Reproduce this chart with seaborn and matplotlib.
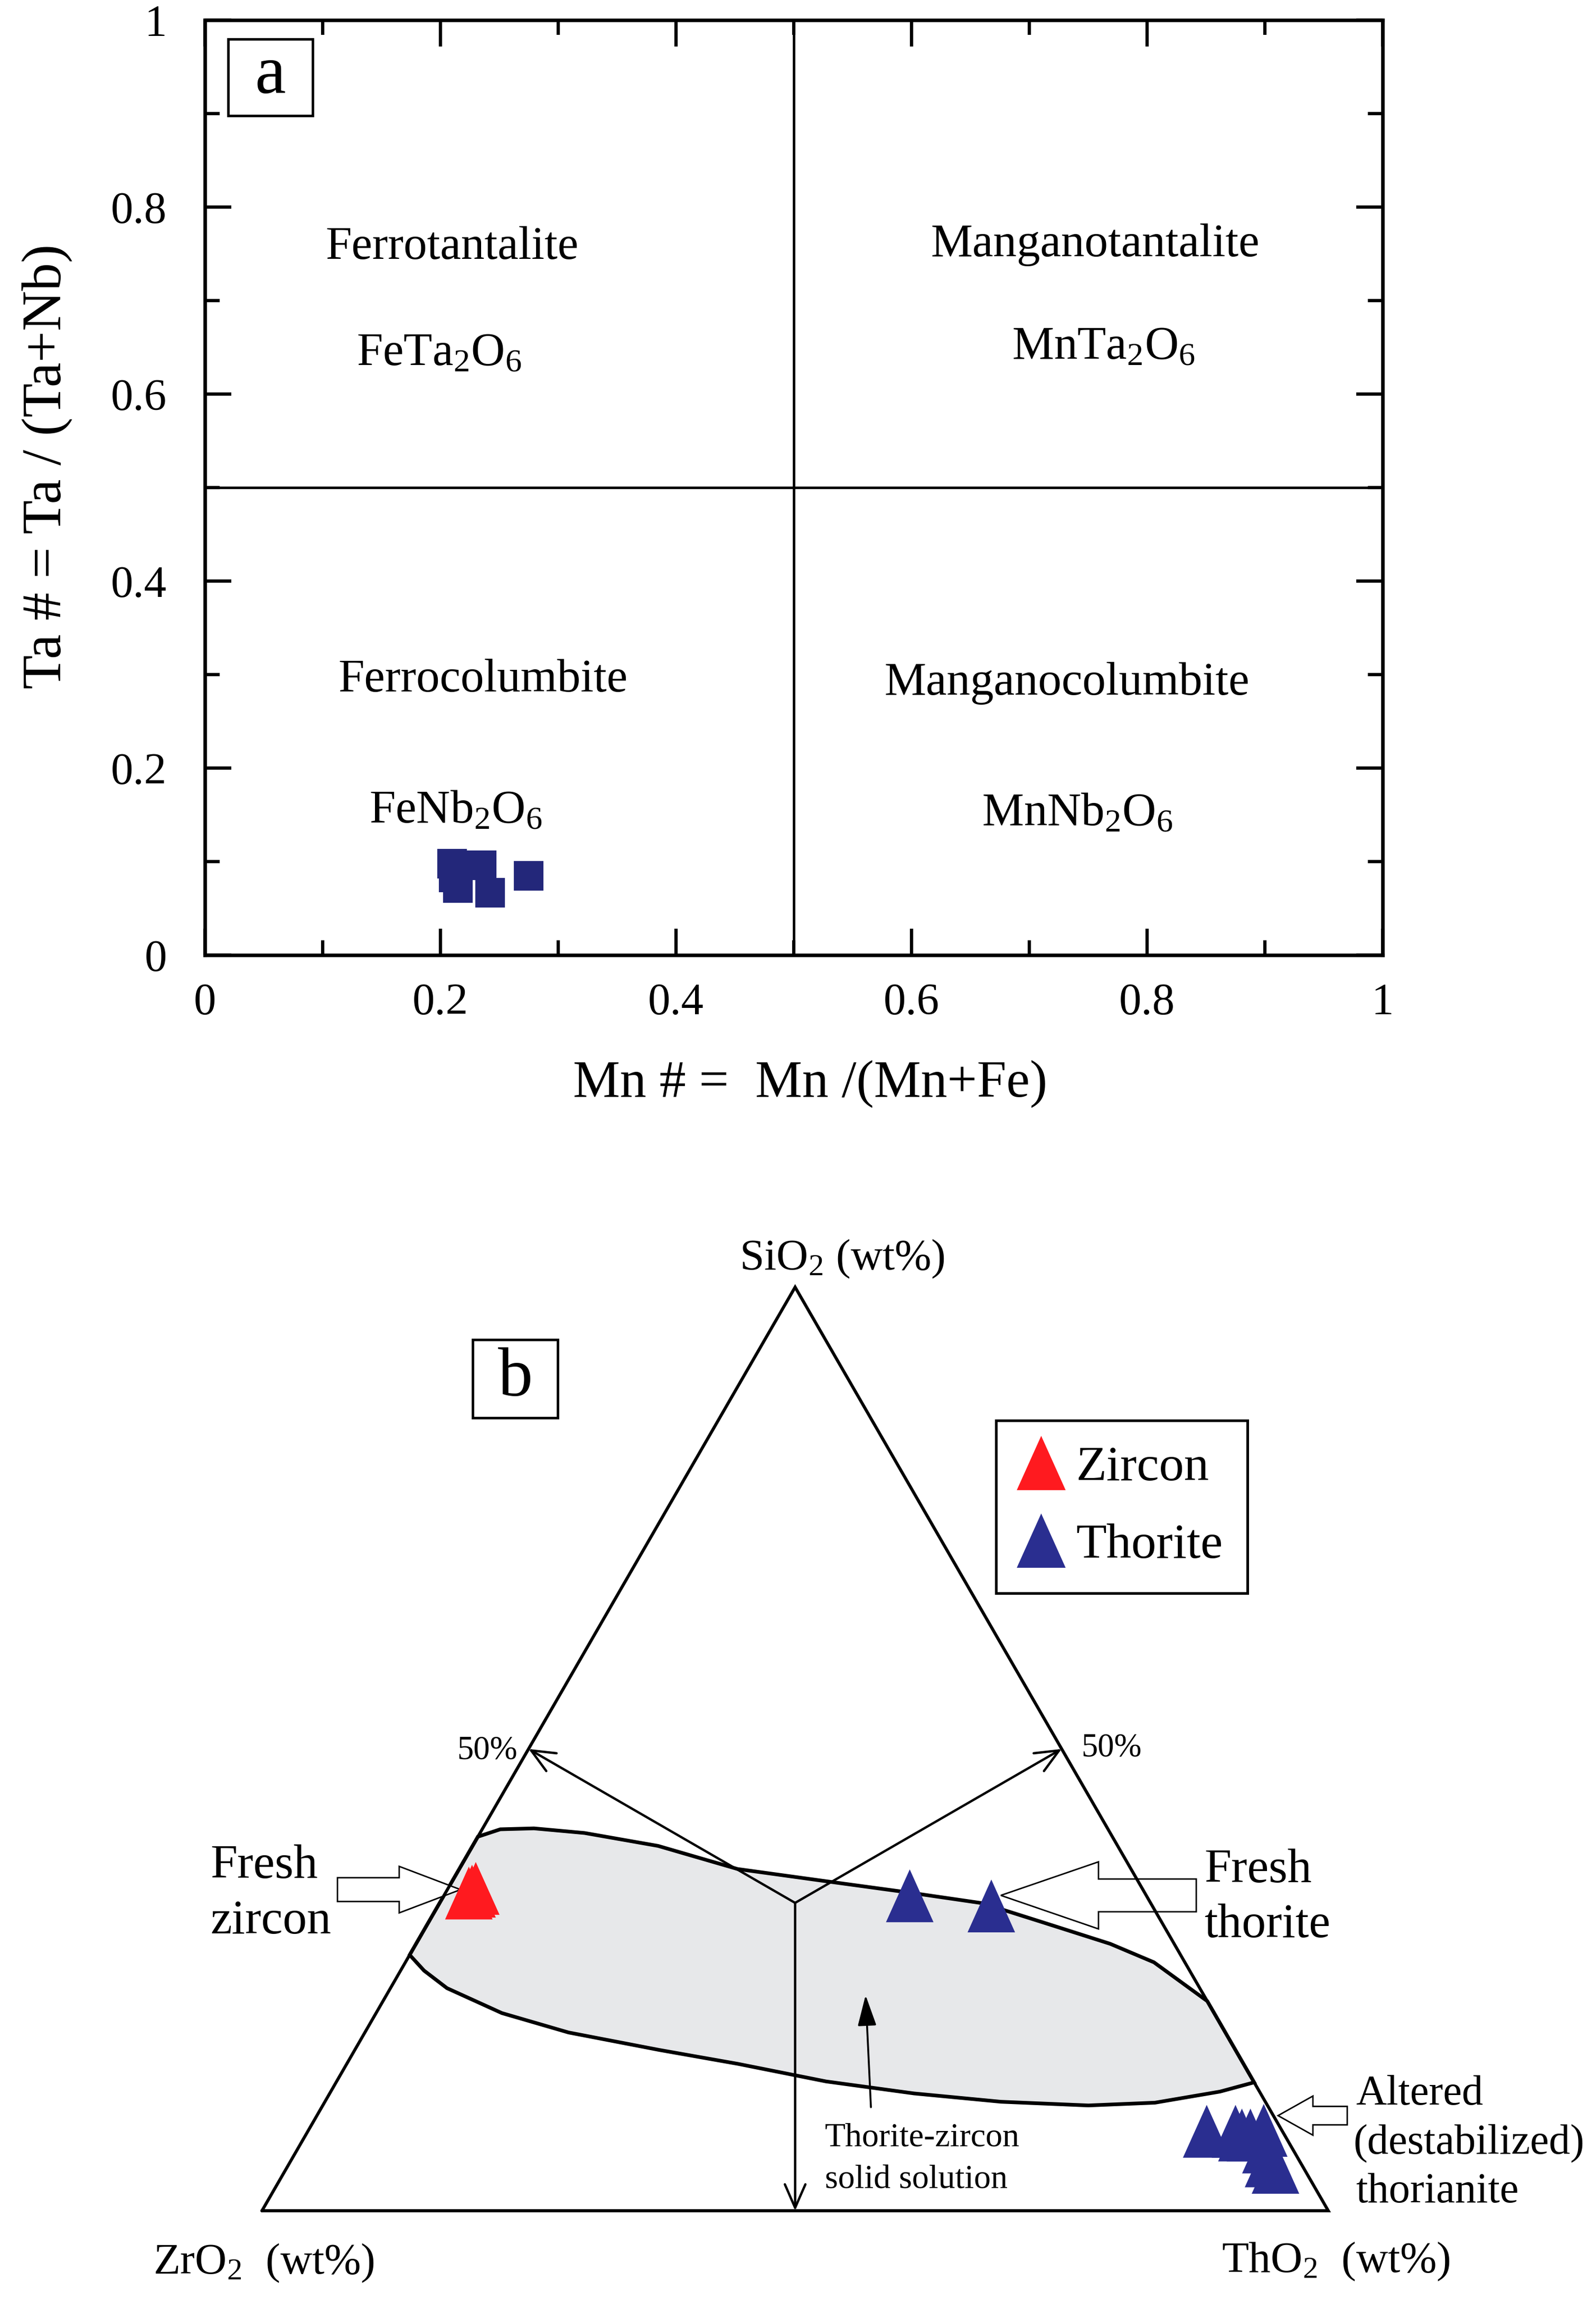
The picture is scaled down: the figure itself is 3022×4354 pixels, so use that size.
import numpy as np
import pandas as pd
import matplotlib
matplotlib.use("Agg")
import matplotlib.pyplot as plt
from matplotlib.patches import Rectangle, FancyArrow
from matplotlib.ticker import MultipleLocator
import seaborn as sns

# ========== panel a: columbite-tantalite quadrilateral ==========
MN_NUM = [0.210, 0.235, 0.215, 0.242, 0.275, 0.211]
TA_NUM = [0.098, 0.096, 0.072, 0.067, 0.085, 0.083]
A_TICKS = [0, 0.2, 0.4, 0.6, 0.8, 1]
A_TICKLABELS = ["0", "0.2", "0.4", "0.6", "0.8", "1"]
FIELD_NAMES = ["Ferrotantalite", "Manganotantalite", "Ferrocolumbite", "Manganocolumbite"]
FIELD_FORMULAS = ["FeTa$_2$O$_6$", "MnTa$_2$O$_6$", "FeNb$_2$O$_6$", "MnNb$_2$O$_6$"]

# ========== panel b: ZrO2-SiO2-ThO2 ternary (wt%) ==========
ZRN_SIO2 = [34.4, 34.6, 34.9]
ZRN_THO2 = [2.2, 2.4, 2.6]
THR_SIO2 = [34.1, 33.0, 8.6, 8.6, 8.2, 8.2, 8.7, 6.9, 5.4, 4.7]
THR_THO2 = [43.7, 51.9, 84.3, 87.0, 87.8, 88.6, 89.6, 90.7, 91.7, 92.7]
# outline of the thorite-zircon solid solution field
SS_SIO2 = [40.5, 41.3, 41.4, 40.9, 39.5, 37.0, 35.7, 34.4, 33.3, 31.2, 28.9, 26.9, 22.7,
           13.9, 12.9, 11.7, 11.4, 11.8, 12.7, 14.0, 15.9, 17.4, 19.3, 21.4, 24.1, 26.0, 27.7]
SS_THO2 = [0.0, 1.7, 4.8, 9.8, 17.4, 26.1, 34.9, 43.8, 50.9, 57.7, 65.1, 70.2, 77.3,
           86.1, 83.4, 77.9, 71.8, 63.4, 54.8, 45.9, 36.7, 28.6, 19.1, 11.8, 5.3, 2.2, 0.0]
MINERALS = ["Zircon", "Thorite"]

NAVY = "#23277a"
BLUE = "#2a2e90"
RED = "#ff1a1f"
FIELD_GREY = "#e7e8ea"


def tern(sio2, tho2):
    # SiO2 at the apex, ZrO2 bottom left, ThO2 bottom right
    s = np.asarray(sio2, dtype=float) / 100
    t = np.asarray(tho2, dtype=float) / 100
    return t + s / 2, s * np.sqrt(3) / 2


sns.set_style("ticks")
plt.rcParams["font.family"] = ["Liberation Serif", "DejaVu Serif"]
plt.rcParams.update({
    "mathtext.fontset": "custom",
    "mathtext.rm": "Liberation Serif",
    "mathtext.it": "Liberation Serif:italic",
    "mathtext.bf": "Liberation Serif:bold",
    "mathtext.default": "rm",
    "axes.edgecolor": "black",
    "axes.labelcolor": "black",
    "text.color": "black",
    "xtick.color": "black",
    "ytick.color": "black",
})

fig = plt.figure(figsize=(30.22, 43.54), dpi=100)

# ---------- panel a ----------
ax_a = fig.add_axes([0.1284, 0.5847, 0.7379, 0.4065])
sns.scatterplot(x=MN_NUM, y=TA_NUM, marker="s", s=1600, color=NAVY,
                linewidth=0, ax=ax_a, zorder=3, legend=False)
ax_a.set_xlim(0, 1)
ax_a.set_ylim(0, 1)
ax_a.axvline(0.5, color="k", lw=3.4, zorder=2)
ax_a.axhline(0.5, color="k", lw=3.4, zorder=2)

ax_a.set_xticks(A_TICKS, A_TICKLABELS)
ax_a.set_yticks(A_TICKS, A_TICKLABELS)
ax_a.xaxis.set_minor_locator(MultipleLocator(0.1))
ax_a.yaxis.set_minor_locator(MultipleLocator(0.1))
ax_a.tick_params(which="both", direction="in", top=True, right=True,
                 width=4.5, labelsize=61)
ax_a.tick_params(which="major", length=36)
ax_a.tick_params(which="minor", length=20)
ax_a.tick_params(axis="x", pad=38)
ax_a.tick_params(axis="y", pad=52)
for sp in ax_a.spines.values():
    sp.set_linewidth(4.8)

ax_a.set_xlabel("Mn # =  Mn /(Mn+Fe)", fontsize=72)
ax_a.xaxis.set_label_coords(0.514, -0.112)
ax_a.set_ylabel("Ta # = Ta / (Ta+Nb)", fontsize=76)
ax_a.yaxis.set_label_coords(-0.112, 0.523)

name_pos = [(0.210, 0.757), (0.756, 0.760), (0.236, 0.294), (0.732, 0.291)]
formula_pos = [(0.199, 0.643), (0.763, 0.650), (0.213, 0.154), (0.741, 0.151)]
for name, (x, y) in zip(FIELD_NAMES, name_pos):
    ax_a.text(x, y, name, fontsize=64, ha="center", va="center")
for fml, (x, y) in zip(FIELD_FORMULAS, formula_pos):
    ax_a.text(x, y, fml, fontsize=64, ha="center", va="center")

ax_a.add_patch(Rectangle((0.0197, 0.898), 0.0718, 0.082, transform=ax_a.transAxes,
                         fill=False, ec="k", lw=3.4, zorder=5))
ax_a.text(0.0556, 0.940, "a", transform=ax_a.transAxes, fontsize=95,
          ha="center", va="center", zorder=5)

# ---------- panel b ----------
ax_b = fig.add_axes([0, 0, 1, 0.4832])
ax_b.set_xlim(-0.2457, 1.2511)
ax_b.set_ylim(-0.0837, 0.9584)
ax_b.set_axis_off()

# solid solution field
fx, fy = tern(SS_SIO2, SS_THO2)
ax_b.fill(fx, fy, facecolor=FIELD_GREY, edgecolor="k", lw=5, zorder=1)

# triangle frame
tx, ty = tern([0, 0, 100, 0], [0, 100, 0, 0])
ax_b.plot(tx, ty, color="k", lw=4.2, zorder=3, solid_joinstyle="miter")

# centroid -> 50 % lines
cx, cy = tern(100 / 3, 100 / 3)
mx, my = tern([50, 50, 0], [0, 50, 50])
for x, y in zip(mx, my):
    ax_b.annotate("", xy=(x, y), xytext=(cx, cy),
                  arrowprops=dict(arrowstyle="->,head_length=1.6,head_width=0.7",
                                  lw=3.2, color="k", mutation_scale=20,
                                  shrinkA=0, shrinkB=0), zorder=3)

# analyses
zx, zy = tern(ZRN_SIO2, ZRN_THO2)
hx, hy = tern(THR_SIO2, THR_THO2)
df = pd.DataFrame({
    "x": np.concatenate([zx, hx]),
    "y": np.concatenate([zy, hy]),
    "mineral": [MINERALS[0]] * len(zx) + [MINERALS[1]] * len(hx),
})
tri = [(0, 1), (-0.9, -1), (0.9, -1)]
sns.scatterplot(data=df, x="x", y="y", hue="mineral", hue_order=MINERALS,
                palette={MINERALS[0]: RED, MINERALS[1]: BLUE}, marker=tri,
                s=72 ** 2, linewidth=0, edgecolor="none", ax=ax_b, zorder=4)
ax_b.set_xlabel("")
ax_b.set_ylabel("")

old = ax_b.get_legend()
handles = list(old.legend_handles)
labels = [t.get_text() for t in old.get_texts()]
old.remove()
for h in handles:
    h.set_markersize(74)
leg = ax_b.legend(handles, labels, loc="upper left", bbox_to_anchor=(0.6241, 0.3824),
                  bbox_transform=fig.transFigure, fontsize=68, frameon=True,
                  fancybox=False, edgecolor="k", framealpha=1, borderpad=0.5,
                  handlelength=0.8, handletextpad=0.30, labelspacing=0.64,
                  borderaxespad=0)
leg.get_frame().set_linewidth(3.6)

# vertex labels
ax_b.text(0.5443, 0.8826, "SiO$_2$ (wt%)", fontsize=60, ha="center", va="baseline")
ax_b.text(-0.1020, -0.0589, "ZrO$_2$  (wt%)", fontsize=60, ha="left", va="baseline")
ax_b.text(0.9000, -0.0575, "ThO$_2$  (wt%)", fontsize=60, ha="left", va="baseline")
ax_b.text(0.2397, 0.4240, "50%", fontsize=45, ha="right", va="baseline")
ax_b.text(0.7682, 0.4260, "50%", fontsize=45, ha="left", va="baseline")

# annotations
ax_b.text(-0.0485, 0.3120, "Fresh", fontsize=66, ha="left", va="baseline")
ax_b.text(-0.0485, 0.2600, "zircon", fontsize=66, ha="left", va="baseline")
ax_b.text(0.8836, 0.3081, "Fresh", fontsize=66, ha="left", va="baseline")
ax_b.text(0.8836, 0.2566, "thorite", fontsize=66, ha="left", va="baseline")
ax_b.text(1.0258, 0.0996, "Altered", fontsize=58, ha="left", va="baseline")
ax_b.text(1.0233, 0.0535, "(destabilized)", fontsize=58, ha="left", va="baseline")
ax_b.text(1.0258, 0.0079, "thorianite", fontsize=58, ha="left", va="baseline")
ax_b.text(0.5280, 0.0605, "Thorite-zircon", fontsize=46, ha="left", va="baseline")
ax_b.text(0.5280, 0.0213, "solid solution", fontsize=46, ha="left", va="baseline")
ax_b.annotate("", xy=(0.5661, 0.2021), xytext=(0.5711, 0.0971),
              arrowprops=dict(arrowstyle="-|>,head_length=1.8,head_width=0.55",
                              lw=2.6, color="k", mutation_scale=20,
                              shrinkA=0, shrinkB=0), zorder=3)

# block arrows
for x0, y0, dx, w, hw, hl in [(0.0708, 0.3011, 0.1154, 0.0223, 0.0436, 0.0575),
                              (0.8762, 0.2957, -0.1833, 0.0307, 0.0629, 0.0916),
                              (1.0178, 0.0892, -0.0649, 0.0173, 0.0367, 0.0327)]:
    ax_b.add_patch(FancyArrow(x0, y0, dx, 0, width=w, head_width=hw, head_length=hl,
                              length_includes_head=True, fc="white", ec="k",
                              lw=2.0, zorder=2.5))

ax_b.add_patch(Rectangle((0.1976, 0.7434), 0.0798, 0.0733, fill=False, ec="k",
                         lw=3.4, zorder=5))
ax_b.text(0.2375, 0.7800, "b", fontsize=95, ha="center", va="center", zorder=5)

fig.savefig("out.png", dpi=100)
